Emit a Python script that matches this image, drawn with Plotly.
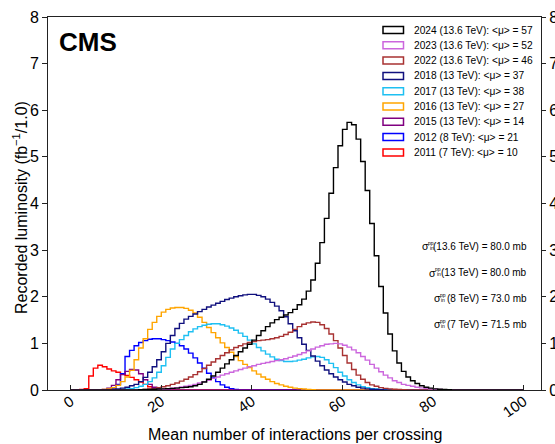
import plotly.graph_objects as go

# ---------------- data ----------------
labels = [
    "2024 (13.6 TeV): <μ> = 57",
    "2023 (13.6 TeV): <μ> = 52",
    "2022 (13.6 TeV): <μ> = 46",
    "2018 (13 TeV): <μ> = 37",
    "2017 (13 TeV): <μ> = 38",
    "2016 (13 TeV): <μ> = 27",
    "2015 (13 TeV): <μ> = 14",
    "2012 (8 TeV): <μ> = 21",
    "2011 (7 TeV): <μ> = 10",
]
colors = ["#000000", "#cc66dd", "#a83232", "#10107e", "#1ec0f2",
          "#ffa500", "#800080", "#0000ff", "#ff0000"]

# first bin (lower edge, bins of width 1) and recorded luminosity per bin
start_2024 = 15
lumi_2024 = [0.005, 0.01, 0.01, 0.015, 0.02, 0.025, 0.03, 0.035, 0.04, 0.05,
             0.06, 0.07, 0.09, 0.12, 0.17, 0.23, 0.30, 0.38, 0.47, 0.56,
             0.65, 0.74, 0.82, 0.90, 0.98, 1.07, 1.17, 1.27, 1.36, 1.44,
             1.51, 1.56, 1.61, 1.66, 1.73, 1.83, 1.95, 2.12, 2.36, 2.72,
             3.16, 3.68, 4.22, 4.77, 5.24, 5.59, 5.74, 5.69, 5.38, 4.90,
             4.28, 3.57, 2.88, 2.22, 1.65, 1.20, 0.84, 0.58, 0.40, 0.28,
             0.20, 0.14, 0.09, 0.06, 0.04, 0.025, 0.015, 0.01, 0.005]
start_2023 = 18
lumi_2023 = [0.01, 0.015, 0.02, 0.03, 0.04, 0.05, 0.065, 0.08, 0.10, 0.12,
             0.15, 0.18, 0.21, 0.25, 0.28, 0.32, 0.35, 0.38, 0.41, 0.44,
             0.47, 0.50, 0.52, 0.55, 0.57, 0.59, 0.61, 0.63, 0.65, 0.67,
             0.70, 0.73, 0.76, 0.80, 0.84, 0.88, 0.92, 0.95, 0.98, 0.99,
             1.00, 0.99, 0.96, 0.92, 0.86, 0.80, 0.72, 0.64, 0.55, 0.47,
             0.39, 0.32, 0.26, 0.20, 0.16, 0.12, 0.10, 0.08, 0.06, 0.045,
             0.035, 0.025, 0.015, 0.01, 0.005]
start_2022 = 16
lumi_2022 = [0.01, 0.02, 0.03, 0.05, 0.07, 0.09, 0.12, 0.15, 0.19, 0.23,
             0.28, 0.33, 0.39, 0.46, 0.53, 0.60, 0.67, 0.74, 0.80, 0.86,
             0.91, 0.95, 0.99, 1.02, 1.04, 1.06, 1.07, 1.08, 1.10, 1.12,
             1.15, 1.19, 1.24, 1.30, 1.36, 1.41, 1.44, 1.46, 1.45, 1.40,
             1.32, 1.20, 1.06, 0.90, 0.74, 0.58, 0.44, 0.32, 0.23, 0.16,
             0.11, 0.08, 0.05, 0.035, 0.025, 0.015, 0.01, 0.005]
start_2018 = 8
lumi_2018 = [0.005, 0.01, 0.02, 0.04, 0.06, 0.09, 0.12, 0.18, 0.27, 0.38,
             0.50, 0.65, 0.82, 1.00, 1.17, 1.32, 1.43, 1.52, 1.58, 1.63,
             1.68, 1.73, 1.78, 1.82, 1.86, 1.90, 1.94, 1.97, 2.00, 2.02,
             2.04, 2.05, 2.05, 2.03, 2.00, 1.95, 1.88, 1.80, 1.70, 1.57,
             1.42, 1.27, 1.12, 0.98, 0.85, 0.73, 0.62, 0.52, 0.43, 0.35,
             0.28, 0.22, 0.17, 0.12, 0.09, 0.06, 0.04, 0.025, 0.015, 0.01,
             0.005]
start_2017 = 10
lumi_2017 = [0.005, 0.01, 0.02, 0.03, 0.05, 0.08, 0.12, 0.18, 0.26, 0.38,
             0.52, 0.70, 0.88, 1.00, 1.08, 1.17, 1.25, 1.31, 1.36, 1.39,
             1.41, 1.42, 1.42, 1.40, 1.37, 1.33, 1.28, 1.22, 1.15, 1.07,
             0.99, 0.91, 0.84, 0.77, 0.71, 0.66, 0.63, 0.61, 0.61, 0.62,
             0.64, 0.66, 0.69, 0.71, 0.72, 0.70, 0.65, 0.57, 0.48, 0.38,
             0.30, 0.22, 0.16, 0.11, 0.07, 0.05, 0.03, 0.02, 0.01, 0.005]
start_2016 = 6
lumi_2016 = [0.005, 0.01, 0.02, 0.05, 0.10, 0.18, 0.28, 0.42, 0.65, 0.90,
             1.10, 1.30, 1.45, 1.58, 1.67, 1.73, 1.76, 1.77, 1.77, 1.75,
             1.71, 1.65, 1.56, 1.45, 1.34, 1.23, 1.12, 1.01, 0.91, 0.81,
             0.72, 0.63, 0.55, 0.48, 0.41, 0.34, 0.28, 0.23, 0.18, 0.14,
             0.11, 0.08, 0.06, 0.04, 0.03, 0.02, 0.01, 0.005]
start_2015 = 6
lumi_2015 = [0.005, 0.01, 0.04, 0.10, 0.22, 0.33, 0.40, 0.44, 0.43, 0.35,
             0.22, 0.12, 0.06, 0.03, 0.01, 0.005]
start_2012 = 7
lumi_2012 = [0.005, 0.01, 0.04, 0.12, 0.35, 0.72, 0.85, 0.95, 1.02, 1.06,
             1.09, 1.10, 1.10, 1.08, 1.06, 1.03, 1.00, 0.95, 0.88, 0.79,
             0.69, 0.58, 0.47, 0.36, 0.26, 0.18, 0.11, 0.06, 0.03, 0.01]
start_2011 = 0
lumi_2011 = [0.0, 0.005, 0.01, 0.03, 0.30, 0.47, 0.53, 0.50, 0.45, 0.41,
             0.38, 0.35, 0.31, 0.27, 0.22, 0.17, 0.12, 0.07, 0.04, 0.02,
             0.01]

series_starts = [start_2024, start_2023, start_2022, start_2018, start_2017,
                 start_2016, start_2015, start_2012, start_2011]
series_lumi = [lumi_2024, lumi_2023, lumi_2022, lumi_2018, lumi_2017,
               lumi_2016, lumi_2015, lumi_2012, lumi_2011]

xsec_energy = ["13.6 TeV", "13 TeV", "8 TeV", "7 TeV"]
xsec_value = ["80.0", "80.0", "73.0", "71.5"]

y_ticks = [0, 1, 2, 3, 4, 5, 6, 7, 8]
x_ticks = [0, 20, 40, 60, 80, 100]
N_BINS = 100

# ---------------- layout helpers ----------------
W, H = 555, 444
L, R, T, B = 48, 541, 17, 390
FONT = "Liberation Sans, Arial, Helvetica, sans-serif"


def px_x(px):
    return (px - L) / (R - L)


def px_y(py):
    return (B - py) / (B - T)


fig = go.Figure()

# draw oldest first so 2024 ends on top
for lab, col, st, vals in reversed(list(zip(labels, colors, series_starts, series_lumi))):
    full = [0.0] * N_BINS
    for i, v in enumerate(vals):
        full[st + i] = v
    xs = list(range(0, N_BINS + 1))
    ys = full + [0.0]
    fig.add_trace(go.Scatter(
        x=xs, y=ys, mode="lines", line=dict(color=col, width=1.4, shape="hv"),
        name=lab, showlegend=False, hoverinfo="skip"))

# invisible trace carrying the right-hand axis
fig.add_trace(go.Scatter(x=[0], y=[0], yaxis="y2", mode="markers",
                         marker=dict(opacity=0), showlegend=False, hoverinfo="skip"))

axis_col = "#222222"
fig.update_layout(
    width=W, height=H,
    margin=dict(l=L, r=W - R, t=T, b=H - B, pad=0),
    paper_bgcolor="white", plot_bgcolor="white",
    font=dict(family=FONT, color="black"),
    showlegend=False,
    xaxis=dict(range=[-5, 103.8], tickvals=x_ticks, ticktext=[str(v) for v in x_ticks],
               tickangle=-35, tickfont=dict(size=15), ticks="inside", ticklen=5,
               ticklabelstandoff=-4,
               tickcolor=axis_col, showline=True, linecolor=axis_col, linewidth=1,
               mirror=True, showgrid=False, zeroline=False, automargin=False),
    yaxis=dict(range=[0, 8], tickvals=y_ticks, tickfont=dict(size=16),
               ticks="outside", ticklen=5, tickcolor=axis_col, showline=True,
               linecolor=axis_col, linewidth=1, showgrid=False, zeroline=False,
               automargin=False),
    yaxis2=dict(range=[0, 8], tickvals=y_ticks, tickfont=dict(size=16),
                overlaying="y", side="right", anchor="x", ticks="outside",
                ticklen=4, tickcolor=axis_col, showline=True, linecolor=axis_col,
                linewidth=1, showgrid=False, zeroline=False, automargin=False),
)

ann = []
shapes = []
# axis titles
ann.append(dict(text="Mean number of interactions per crossing", xref="paper", yref="paper",
                x=px_x(295), y=px_y(434), xanchor="center", yanchor="middle",
                showarrow=False, font=dict(size=16)))
ann.append(dict(text="Recorded luminosity (fb<sup>−1</sup>/1.0)", xref="paper", yref="paper",
                x=px_x(20), y=px_y(208), xanchor="center", yanchor="middle",
                textangle=-90, showarrow=False, font=dict(size=16)))
# CMS label
ann.append(dict(text="<b>CMS</b>", xref="paper", yref="paper", x=px_x(57), y=px_y(42),
                xanchor="left", yanchor="middle", showarrow=False, font=dict(size=26)))

# legend (manual, ROOT style boxes)
row0, dy = 30.0, 15.3
for i, (lab, col) in enumerate(zip(labels, colors)):
    yc = row0 + i * dy
    shapes.append(dict(type="rect", xref="paper", yref="paper",
                       x0=px_x(383), x1=px_x(403.5), y0=px_y(yc + 3.5), y1=px_y(yc - 3.5),
                       line=dict(color=col, width=1.5), fillcolor="white"))
    ann.append(dict(text=lab.replace("<", "&lt;").replace(">", "&gt;"),
                    xref="paper", yref="paper", x=px_x(411.5), y=px_y(yc),
                    xanchor="left", yanchor="middle", showarrow=False,
                    font=dict(size=10.2)))

# cross-section annotations
xs_rows = [245.0, 271.5, 297.0, 323.0]
paren_x = [435.0, 442.0, 446.5, 446.5]
for e, v, yc, px0 in zip(xsec_energy, xsec_value, xs_rows, paren_x):
    ann.append(dict(text=f"({e}) = {v} mb", xref="paper", yref="paper",
                    x=px_x(528), y=px_y(yc + 1), xanchor="right", yanchor="middle",
                    showarrow=False, borderpad=0, font=dict(size=10.0)))
    ann.append(dict(text="pp", xref="paper", yref="paper", x=px_x(px0),
                    y=px_y(yc - 2.2), xanchor="right", yanchor="middle", showarrow=False,
                    borderpad=0, font=dict(size=5)))
    ann.append(dict(text="in", xref="paper", yref="paper", x=px_x(px0 - 0.3),
                    y=px_y(yc + 2.8), xanchor="right", yanchor="middle", showarrow=False,
                    borderpad=0, font=dict(size=5)))
    ann.append(dict(text="σ", xref="paper", yref="paper", x=px_x(px0 - 5.0), y=px_y(yc + 1),
                    xanchor="right", yanchor="middle", showarrow=False, borderpad=0,
                    font=dict(size=10.5)))

fig.update_layout(annotations=ann, shapes=shapes)
fig.write_html("out.html", config={"displayModeBar": False},
               post_script="document.body.style.margin='0px';")
